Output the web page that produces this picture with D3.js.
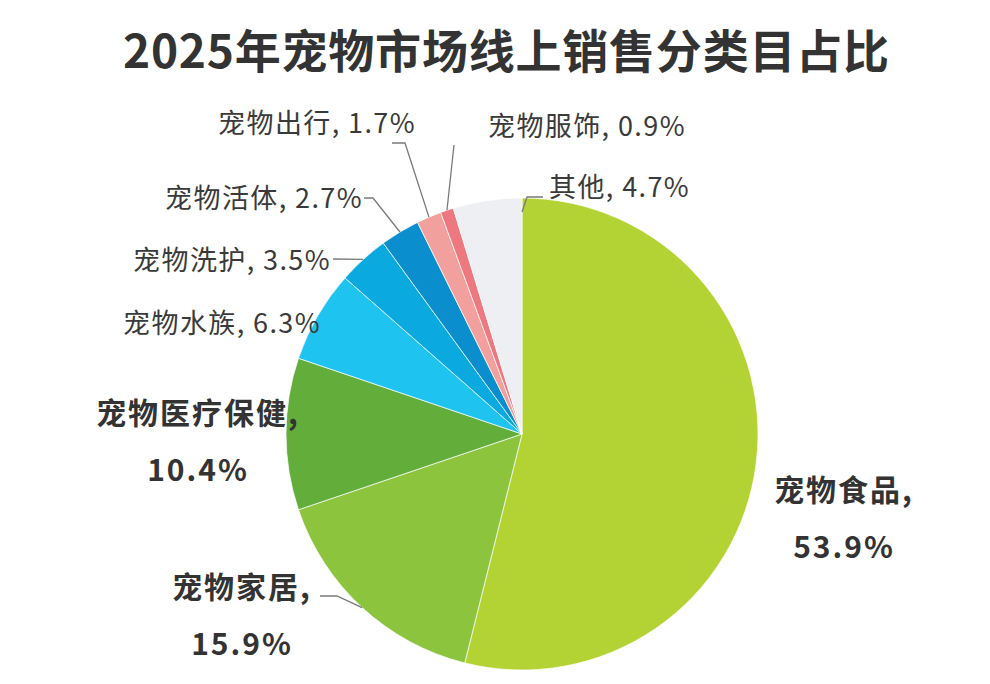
<!DOCTYPE html>
<html lang="zh">
<head>
<meta charset="UTF-8">
<title>2025年宠物市场线上销售分类目占比</title>
<script src="https://d3js.org/d3.v7.min.js"></script>
<style>
  html, body { margin: 0; padding: 0; background: #fff; }
  svg { display: block; }
</style>
</head>
<body>
<svg id="chart"></svg>
<script>
// data
const categories = ["宠物食品", "宠物家居", "宠物医疗保健", "宠物水族", "宠物洗护", "宠物活体", "宠物出行", "宠物服饰", "其他"];
const shares = [53.9, 15.9, 10.4, 6.3, 3.5, 2.7, 1.7, 0.9, 4.7];
const colors = ["#b3d234", "#8cc43e", "#63ad3b", "#1ec3f0", "#0aaae1", "#0a8ecd", "#f2a09e", "#ee7880", "#eeeff3"];

// label placement (text anchor point, elbow of leader line)
const labelLayout = [
  { x: 844, y: 501, anchor: "middle", bold: true },
  { x: 242, y: 598, anchor: "middle", bold: true, elbow: [[320, 596], [337, 596]] },
  { x: 198, y: 424, anchor: "middle", bold: true },
  { x: 321, y: 333, anchor: "end" },
  { x: 331, y: 270, anchor: "end", elbow: [[333, 259]] },
  { x: 363, y: 208, anchor: "end", elbow: [[364, 198], [373, 198]] },
  { x: 416, y: 133, anchor: "end", elbow: [[392, 143], [405, 143]] },
  { x: 488, y: 136, anchor: "start", elbow: [[454, 145]] },
  { x: 549, y: 197, anchor: "start", elbow: [[543, 197], [527, 197]], toEnd: true }
];

const width = 990, height = 684;
const cx = 522, cy = 434, radius = 236;

const svg = d3.select("#chart")
  .attr("width", width)
  .attr("height", height)
  .attr("viewBox", `0 0 ${width} ${height}`);

svg.append("text")
  .attr("x", 506)
  .attr("y", 68)
  .attr("text-anchor", "middle")
  .attr("font-family", "'Noto Sans CJK SC', sans-serif")
  .attr("font-weight", 700)
  .attr("font-size", 46)
  .attr("fill", "#333")
  .attr("textLength", 766)
  .attr("lengthAdjust", "spacing")
  .text("2025年宠物市场线上销售分类目占比");

const pie = d3.pie().sort(null).value(d => d);
const arcs = pie(shares);

const arc = d3.arc().innerRadius(0).outerRadius(radius);

const g = svg.append("g").attr("transform", `translate(${cx},${cy})`);

g.selectAll("path.slice")
  .data(arcs)
  .join("path")
  .attr("class", "slice")
  .attr("d", arc)
  .attr("fill", (d, i) => colors[i])
  .attr("stroke", "rgba(255,255,255,0.7)")
  .attr("stroke-width", 1);

// point on the rim for leader lines
function rimPoint(angle, r) {
  return [cx + r * Math.sin(angle), cy - r * Math.cos(angle)];
}

const fmt = d3.format(".1f");
const line = d3.line();

arcs.forEach((d, i) => {
  const lay = labelLayout[i];
  if (lay.elbow) {
    const end = lay.toEnd
      ? rimPoint(d.endAngle, radius - 14)
      : rimPoint((d.startAngle + d.endAngle) / 2, radius);
    svg.append("path")
      .attr("d", line(lay.elbow.concat([end])))
      .attr("fill", "none")
      .attr("stroke", "#7a7a7a")
      .attr("stroke-width", 1.3);
  }
  const t = svg.append("text")
    .attr("x", lay.x)
    .attr("y", lay.y)
    .attr("text-anchor", lay.anchor)
    .attr("font-family", "'Noto Sans CJK SC', sans-serif")
    .attr("fill", "#3a3a3a");
  if (lay.bold) {
    t.attr("font-weight", 700).attr("font-size", 30).attr("letter-spacing", 2).attr("fill", "#333");
    t.append("tspan").attr("x", lay.x).text(categories[i] + ",");
    t.append("tspan").attr("x", lay.x).attr("dy", 57).text(fmt(shares[i]) + "%");
  } else {
    t.attr("font-size", 27).attr("letter-spacing", 1.4).text(`${categories[i]}, ${fmt(shares[i])}%`);
  }
});
</script>
</body>
</html>
